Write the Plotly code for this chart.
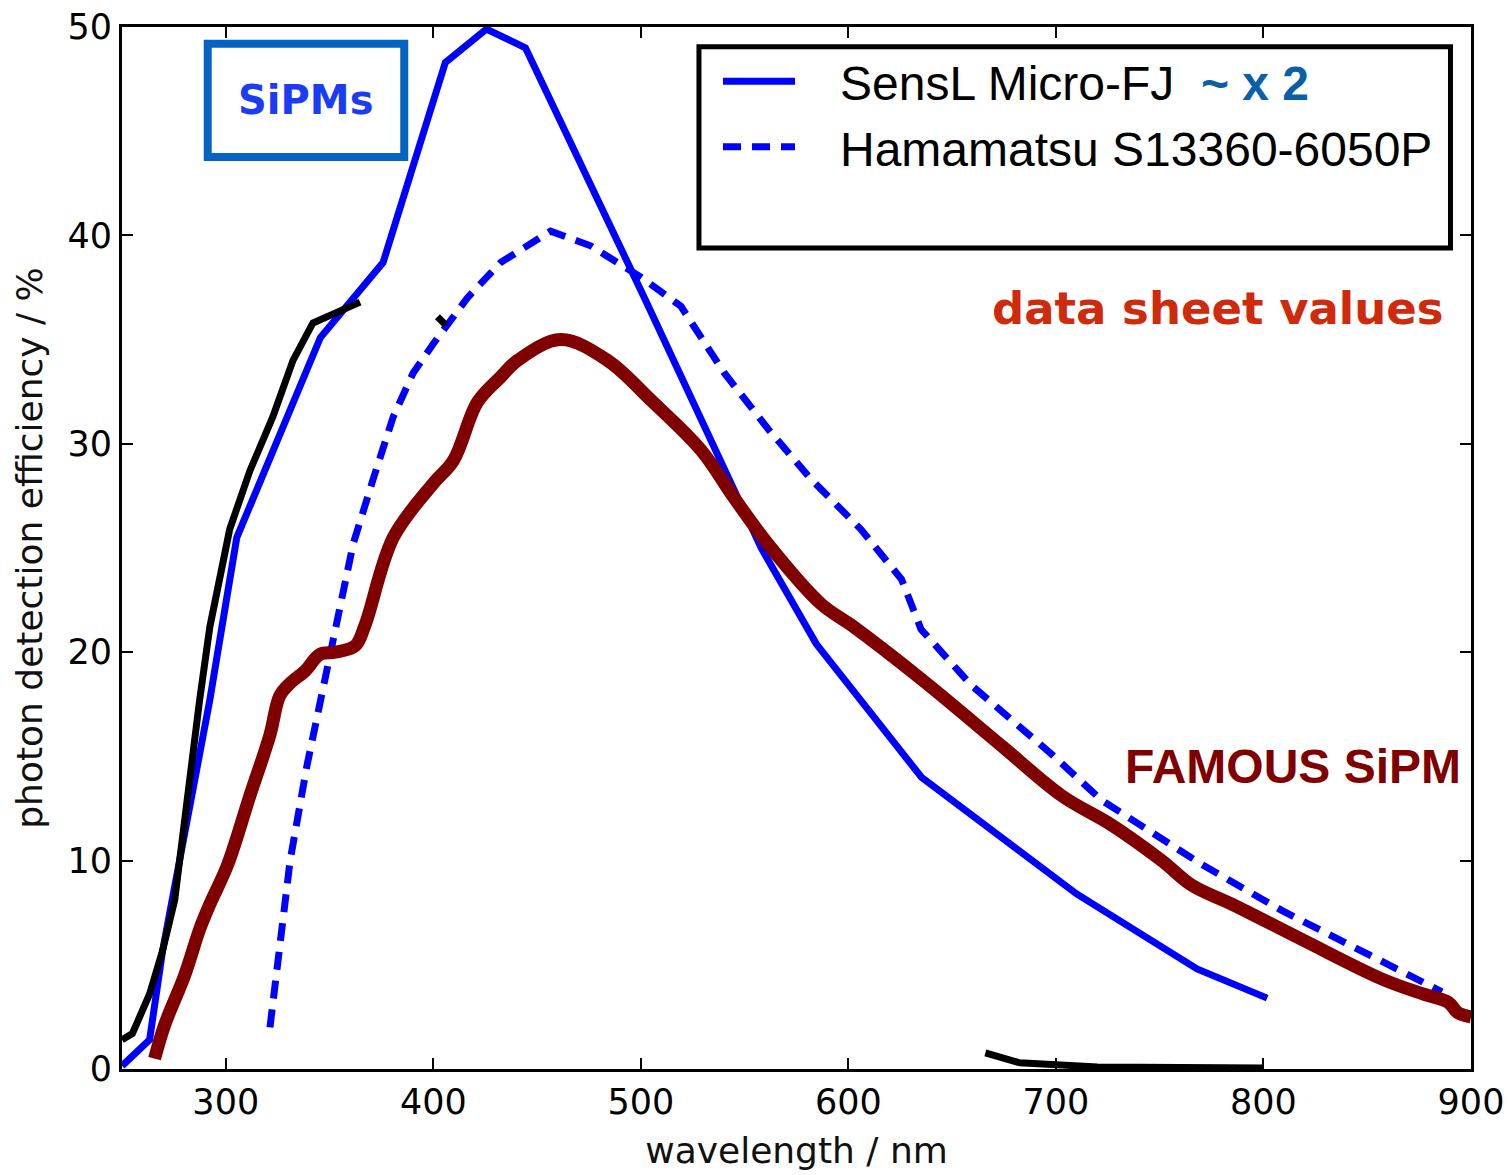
import plotly.graph_objects as go

# SensL Micro-FJ data sheet PDE (scaled ~x2)
sensl_wl = [250, 263.3, 269.6, 292.3, 305.3, 345.6, 375.8, 405.8, 425.6, 444.4,
            502.2, 558.0, 584.5, 635.2, 710.0, 768.0, 801.8]
sensl_pde = [0.15, 1.4, 5.7, 17.7, 25.5, 35.1, 38.7, 48.3, 49.9, 49.0,
             36.9, 25.0, 20.4, 14.0, 8.4, 4.8, 3.4]

# Hamamatsu S13360-6050P data sheet PDE
hama_wl = [321.3, 326, 331, 339, 347, 355, 361.4, 371.0, 380.7, 390.3, 400,
           416.4, 432.4, 456.5, 475.8, 500, 519.3, 540.2, 561.4, 582, 606,
           625.6, 635, 659.4, 698, 722, 770.5, 809, 857, 886]
hama_pde = [2.0, 5.8, 10.0, 14.5, 18.3, 22.0, 25.2, 28.3, 31.3, 33.4, 34.8,
            37.0, 38.7, 40.2, 39.5, 38.0, 36.6, 33.4, 30.7, 28.3, 25.9,
            23.5, 21.1, 18.4, 15.1, 12.9, 9.8, 7.6, 5.2, 3.7]

# FAMOUS SiPM measured PDE
famous_wl = [265.7, 270.5, 280.2, 287.4, 292.3, 300.9, 311.6, 321.2, 326, 330.9,
             338.2, 345.4, 352.7, 362.3, 367.1, 380.7, 400, 409.7, 421.3, 432.4,
             440.6, 461.4, 484, 504.8, 529, 545, 561.2, 587, 601.4, 635.2,
             673.9, 703, 727, 751, 765.7, 785, 818.8, 857.5, 876.8, 889,
             893.7, 900]
famous_pde = [0.5, 2.1, 4.5, 6.7, 7.9, 9.8, 13.1, 16.0, 17.9, 18.5,
              19.1, 19.9, 20.0, 20.3, 21.3, 25.5, 28.1, 29.2, 32.0, 33.2,
              34.0, 35.0, 34.0, 32.1, 29.7, 27.4, 25.2, 22.3, 21.3, 18.7,
              15.5, 13.1, 11.7, 10.0, 8.8, 7.9, 6.2, 4.3, 3.6, 3.2,
              2.7, 2.5]

# leftover black reference curve pieces
black_uv_wl = [250, 255, 263.3, 269.6, 275.4, 281, 287.4, 292.3, 301.9, 311.6,
               322.7, 332.4, 342, 364.7]
black_uv_pde = [1.4, 1.7, 3.6, 5.7, 8.1, 12.9, 17.7, 21.2, 25.9, 28.7,
                31.3, 34.0, 35.8, 36.8]
black_mid_wl = [402, 406]
black_mid_pde = [36.1, 35.7]
black_ir_wl = [666, 682.5, 720, 800]
black_ir_pde = [0.77, 0.3, 0.1, 0.05]

x_ticks = [300, 400, 500, 600, 700, 800, 900]
y_ticks = [0, 10, 20, 30, 40, 50]

BLUE = "#0000ff"
DARKRED = "#800000"
PAD = "\u00a0" * 3

fig = go.Figure()

fig.add_trace(go.Scatter(
    x=sensl_wl, y=sensl_pde, mode="lines",
    name=PAD + 'SensL Micro-FJ  <b><span style="color:#0b5ea8">~ x 2</span></b>',
    line=dict(color=BLUE, width=7)))
fig.add_trace(go.Scatter(
    x=hama_wl, y=hama_pde, mode="lines",
    name=PAD + "Hamamatsu S13360-6050P",
    line=dict(color=BLUE, width=7, dash="18px,11px")))
for wl, pde in [(black_uv_wl, black_uv_pde), (black_mid_wl, black_mid_pde),
                (black_ir_wl, black_ir_pde)]:
    fig.add_trace(go.Scatter(
        x=wl, y=pde, mode="lines", showlegend=False,
        line=dict(color="black", width=7)))
fig.add_trace(go.Scatter(
    x=famous_wl, y=famous_pde, mode="lines", showlegend=False,
    line=dict(color=DARKRED, width=13, shape="spline", smoothing=1.0)))

axis_common = dict(
    showgrid=False, zeroline=False, automargin=False,
    showline=True, linewidth=3, linecolor="black", mirror="ticks",
    ticks="inside", ticklen=11, tickwidth=2, tickcolor="black",
    tickfont=dict(family="DejaVu Sans", size=35, color="black"),
)

fig.update_xaxes(
    range=[250, 900], tickvals=x_ticks,
    title=dict(text="wavelength / nm", standoff=17,
               font=dict(family="DejaVu Sans", size=36, color="#111111")),
    **axis_common)
fig.update_yaxes(
    range=[0, 50], tickvals=y_ticks,
    title=dict(text="photon detection efficiency / %", standoff=14,
               font=dict(family="DejaVu Sans", size=36, color="#111111")),
    **axis_common)

# "SiPMs" framed label
fig.add_shape(type="rect", xref="x", yref="y", x0=291.3, x1=386.0, y0=43.76, y1=49.2,
              line=dict(color="#0563c1", width=8))
fig.add_annotation(x=338.6, y=46.5, xref="x", yref="y", text="<b>SiPMs</b>",
                   showarrow=False,
                   font=dict(family="DejaVu Sans", size=40, color="#1a3cf5"))

# legend frame
fig.add_shape(type="rect", xref="paper", yref="paper",
              x0=0.4277, x1=0.9848, y0=0.788, y1=0.981,
              line=dict(color="black", width=5))

fig.add_annotation(x=778.3, y=36.5, xref="x", yref="y", text="<b>data sheet values</b>",
                   showarrow=False,
                   font=dict(family="DejaVu Sans", size=45, color="#cf2a0c"))
fig.add_annotation(x=814, y=14.5, xref="x", yref="y", text="<b>FAMOUS SiPM</b>",
                   showarrow=False,
                   font=dict(family="Liberation Sans", size=48, color=DARKRED))

fig.update_layout(
    width=1508, height=1175,
    margin=dict(l=122, r=37, t=27, b=106),
    paper_bgcolor="white", plot_bgcolor="white",
    legend=dict(
        x=0.4418, y=0.984, xanchor="left", yanchor="top",
        bgcolor="rgba(0,0,0,0)", borderwidth=0,
        itemwidth=72, tracegroupgap=0,
        font=dict(family="Liberation Sans", size=48, color="black"),
    ),
)

fig.write_html("out.html")
